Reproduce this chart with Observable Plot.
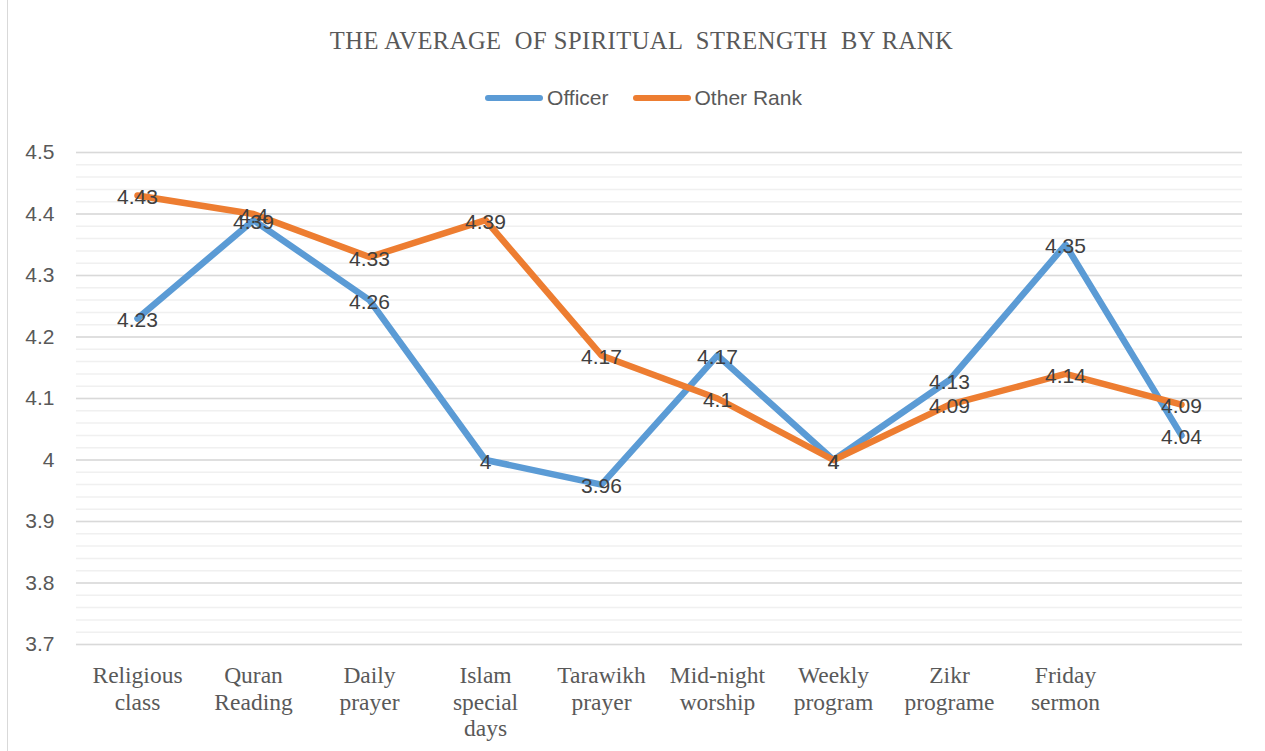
<!DOCTYPE html>
<html>
<head>
<meta charset="utf-8">
<script src="https://cdn.jsdelivr.net/npm/d3@7"></script>
<script src="https://cdn.jsdelivr.net/npm/@observablehq/plot@0.6"></script>
<style>
  html, body { margin: 0; padding: 0; background: #fff; overflow: hidden; }
  #frame { position: absolute; left: 7px; top: -1px; width: 1270px; height: 760px; border: 1px solid #d9d9d9; box-sizing: border-box; }
  #title { position: absolute; left: 0; top: 27px; width: 1283px; text-align: center; font-family: "Liberation Serif", serif; font-size: 24.5px; color: #595959; white-space: pre; letter-spacing: 0.5px; }
  #legend { position: absolute; left: 0; top: 86px; width: 1287px; display: flex; justify-content: center; align-items: center; font-family: "Liberation Sans", sans-serif; font-size: 21px; color: #595959; }
  .item { display: flex; align-items: center; margin: 0 12px; }
  .sw { width: 58px; height: 6px; border-radius: 3px; margin-right: 4px; }
  #chart { position: absolute; left: 0; top: 120px; }
</style>
</head>
<body>
<div id="frame"></div>
<div id="title">THE AVERAGE  OF SPIRITUAL  STRENGTH  BY RANK</div>
<div id="legend"></div>
<div id="chart"></div>
<script>
const categories = ["Religious\nclass", "Quran\nReading", "Daily\nprayer", "Islam\nspecial\ndays", "Tarawikh\nprayer", "Mid-night\nworship", "Weekly\nprogram", "Zikr\nprograme", "Friday\nsermon", ""];
const officer = [4.23, 4.39, 4.26, 4, 3.96, 4.17, 4, 4.13, 4.35, 4.04];
const otherRank = [4.43, 4.4, 4.33, 4.39, 4.17, 4.1, 4, 4.09, 4.14, 4.09];
const seriesNames = ["Officer", "Other Rank"];
const colors = ["#5b9bd5", "#ed7d31"];
const yTicks = [3.7, 3.8, 3.9, 4, 4.1, 4.2, 4.3, 4.4, 4.5];

const rows = [];
[officer, otherRank].forEach((arr, s) => arr.forEach((v, i) => rows.push({i, v, series: seriesNames[s]})));

const minor = d3.range(0, 41).map(k => +(3.7 + k * 0.02).toFixed(2));

const legend = document.getElementById("legend");
seriesNames.forEach((n, k) => {
  const it = document.createElement("div");
  it.className = "item";
  it.innerHTML = `<div class="sw" style="background:${colors[k]}"></div><span>${n}</span>`;
  legend.appendChild(it);
});

const fmt = d => String(+(+d).toFixed(2));

const chart = Plot.plot({
  width: 1265,
  height: 631,
  marginLeft: 76,
  marginRight: 23,
  marginTop: 32,
  marginBottom: 107,
  x: {type: "point", domain: d3.range(categories.length), padding: 0.5, label: null},
  y: {domain: [3.7, 4.5], label: null},
  color: {domain: seriesNames, range: colors},
  style: {background: "transparent"},
  marks: [
    Plot.ruleY(minor, {stroke: "#f0f0f0", strokeWidth: 1.5}),
    Plot.ruleY(yTicks, {stroke: "#d9d9d9", strokeWidth: 1.5}),
    Plot.axisY(yTicks, {label: null, tickSize: 0, tickPadding: 22, tickFormat: fmt, fontSize: 21, fill: "#595959", fontFamily: "Liberation Sans, sans-serif"}),
    Plot.axisX({label: null, tickSize: 0, tickPadding: 20, tickFormat: i => categories[i], fontSize: 23.5, lineHeight: 1.12, fill: "#595959", fontFamily: "Liberation Serif, serif", textAnchor: "middle", lineAnchor: "top"}),
    Plot.line(rows, {x: "i", y: "v", z: "series", stroke: "series", strokeWidth: 6.5, strokeLinejoin: "round", strokeLinecap: "round"}),
    Plot.text(rows, {x: "i", y: "v", text: d => fmt(d.v), dy: 2, fontSize: 21, fill: "#404040", fontFamily: "Liberation Sans, sans-serif"})
  ]
});
document.getElementById("chart").appendChild(chart);
</script>
</body>
</html>
